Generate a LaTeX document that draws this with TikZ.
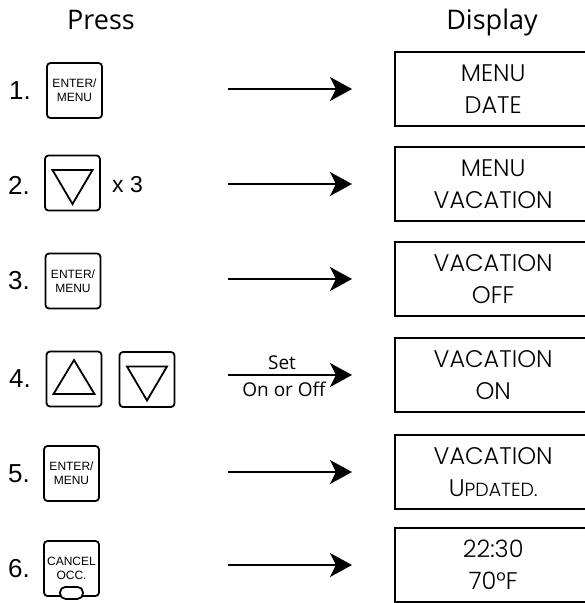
\documentclass[tikz,border=0pt]{standalone}
\usepackage{fontspec}
\setmainfont{Liberation Sans}
\newfontfamily\lcd{Poppins Light}
\newfontfamily\hdr{Open Sans}
\usetikzlibrary{arrows.meta,calc}
\begin{document}
\begin{tikzpicture}[x=1pt,y=-1pt,
  key/.style={draw, line width=1.8pt, rounded corners=3.5pt, minimum width=55pt, minimum height=55pt, inner sep=0pt, align=center, font=\fontsize{12}{14}\selectfont},
  pill/.style={draw, fill=white, line width=1.8pt, rounded corners=5.5pt, minimum width=23pt, minimum height=12pt, inner sep=0pt},
  disp/.style={minimum width=196pt, minimum height=74pt, inner sep=0pt, align=center, anchor=west, font=\lcd\fontsize{24}{32}\selectfont},
  dispframe/.style={line width=1.8pt},
  arr/.style={line width=1.8pt, -{Stealth[length=22pt,width=24pt,inset=6pt]}},
  num/.style={anchor=west, inner sep=0pt, font=\fontsize{26}{30}\selectfont},
  tri/.style={line width=1.8pt, line join=miter},
  head/.style={anchor=base, inner sep=0pt, font=\hdr\fontsize{27}{30}\selectfont},
  small/.style={anchor=base, inner sep=0pt, font=\hdr\fontsize{19}{22}\selectfont}]
\useasboundingbox (0,0) rectangle (585,603);
\fill[white] (0,0) rectangle (585,603);
% headers
\node[head] (press) at (101,29) {Press};
\node[head] (display) at (492,29) {Display};
% displays
\node[disp] (d1) at (395,89) {MENU\\DATE};
\node[disp] (d2) at (395,184) {MENU\\VACATION};
\node[disp] (d3) at (395,279) {VACATION\\OFF};
\node[disp] (d4) at (395,375) {VACATION\\ON};
\node[disp] (d5) at (395,472) {VACATION\\U{\fontsize{19}{32}\selectfont PDATED.}};
\node[disp] (d6) at (395,565) {22:30\\70°F};
\coordinate (redge) at (586,0);
\foreach \d in {d1,d2,d3,d4,d5,d6} {
  \draw[dispframe] (\d.north west -| redge) -- (\d.north west) -- (\d.south west) -- (\d.south west -| redge);
  \draw[arr] ($(\d.west)+(-167,0)$) -- ($(\d.west)+(-43,0)$);
}
% arrow labels row 4
\node[small] (set) at (282,369) {Set};
\node[small] (onoff) at (284,396) {On or Off};
% numbers
\node[num] (n1) at (9,90.5) {1.};
\node[num] (n2) at (8,185) {2.};
\node[num] (n3) at (8,281) {3.};
\node[num] (n4) at (9,379) {4.};
\node[num] (n5) at (8,474) {5.};
\node[num] (n6) at (8,569) {6.};
% keys
\node[key] (k1) at (74.5,90.5) {ENTER/\\MENU};
\node[key] (k2) at (72.5,183) {};
\node[anchor=west, inner sep=0pt, font=\fontsize{23}{26}\selectfont] (x3) at (112,185) {x 3};
\node[key] (k3) at (73,281) {ENTER/\\MENU};
\node[key] (k4a) at (74,379) {};
\node[key] (k4b) at (147,379.5) {};
\node[key] (k5) at (71.5,473.5) {ENTER/\\MENU};
\node[key] (k6) at (71.5,568.5) {CANCEL\\OCC.};
\node[pill] (k6p) at ($(k6.south)+(0,-4)$) {};
% triangles
\draw[tri] ($(k2.center)+(-20,-13)$) -- ($(k2.center)+(20,-13)$) -- ($(k2.center)+(0,21)$) -- cycle;
\draw[tri] ($(k4b.center)+(-20,-13)$) -- ($(k4b.center)+(20,-13)$) -- ($(k4b.center)+(0,21)$) -- cycle;
\draw[tri] ($(k4a.center)+(0,-19)$) -- ($(k4a.center)+(20.5,15)$) -- ($(k4a.center)+(-20.5,15)$) -- cycle;
\end{tikzpicture}
\end{document}
